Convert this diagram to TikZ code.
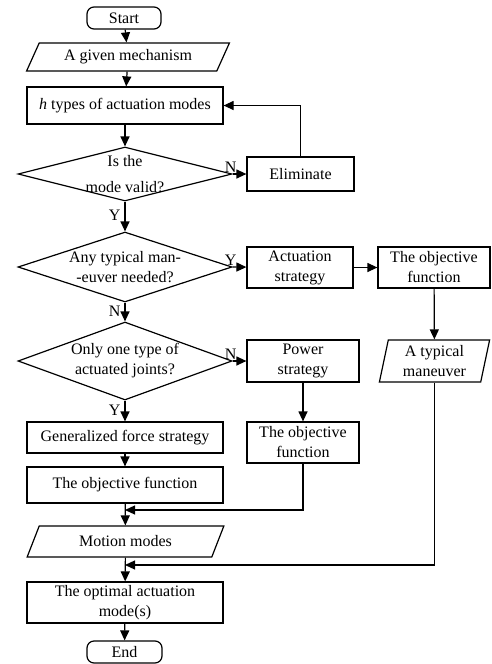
\documentclass[tikz,border=0pt]{standalone}
\usepackage{fontspec}
\setmainfont{Liberation Serif}
\usetikzlibrary{shapes.geometric,arrows.meta}
\begin{document}
\begin{tikzpicture}[x=1pt,y=-1pt,line width=1.2pt,font=\fontsize{16}{20}\selectfont,
  >={Triangle[length=10pt,width=9pt]},
  term/.style={draw,rounded corners=7pt,minimum width=74pt,minimum height=22pt,inner sep=0pt},
  proc/.style={draw,align=center,inner sep=0pt},
  io/.style={draw,trapezium,trapezium stretches=true,align=center,inner sep=0pt},
  decide/.style={draw,diamond,inner sep=0pt,minimum width=214pt}]
\useasboundingbox (0,0) rectangle (492,664);
\node[term] (start) at (124,18) {Start};
\node[io,trapezium left angle=58,trapezium right angle=122,minimum width=203pt,minimum height=28pt] (mech) at (128,57) {A given mechanism};
\node[proc,minimum width=196pt,minimum height=37pt] (htypes) at (125,105.5) {\textit{h} types of actuation modes};
\node[decide,minimum height=54pt,label={[align=center]center:Is the\\[6pt]mode valid?}] (valid) at (125,174) {};
\node[proc,minimum width=107pt,minimum height=34pt] (elim) at (300.5,174) {Eliminate};
\node[decide,minimum height=70pt,label={[align=center]center:Any typical man-\\-euver needed?}] (anyman) at (125,267) {};
\node[proc,minimum width=106pt,minimum height=41pt] (act) at (300,267.5) {Actuation\\strategy};
\node[proc,minimum width=112pt,minimum height=41pt] (objA) at (434,267.5) {The objective\\function};
\node[io,trapezium left angle=79,trapezium right angle=101,minimum width=111pt,minimum height=42pt] (typ) at (434.5,361) {A typical\\maneuver};
\node[decide,minimum height=78pt,label={[align=center]center:Only one type of\\actuated joints?}] (onetype) at (125,361) {};
\node[proc,minimum width=112pt,minimum height=42pt] (power) at (303,361) {Power\\strategy};
\node[proc,minimum width=196pt,minimum height=31pt] (gfs) at (125,437.5) {Generalized force strategy};
\node[proc,minimum width=112pt,minimum height=41pt] (objB) at (303,442.5) {The objective\\function};
\node[proc,minimum width=196pt,minimum height=36pt] (objC) at (125,485) {The objective function};
\node[io,trapezium left angle=60,trapezium right angle=120,minimum width=197pt,minimum height=31pt] (motion) at (125.5,541.5) {Motion modes};
\node[proc,minimum width=196pt,minimum height=41pt] (optimal) at (125,602.5) {The optimal actuation\\mode(s)};
\node[term,minimum width=75pt] (end) at (124.5,652) {End};
\coordinate (joinB) at (125,510);
\coordinate (joinA) at (125,565);
\draw[->] (start) -- (mech);
\draw[->] (mech) -- (htypes);
\draw[->] (htypes) -- (valid);
\draw[->] (valid.east) -- node[pos=0,above,xshift=-2pt,inner sep=1pt] {N} (elim);
\draw[->] (elim.north) |- (htypes.east);
\draw[->] (valid.south) -- node[left,pos=0.45,inner sep=4pt] {Y} (anyman.north);
\draw[->] (anyman.east) -- node[pos=0,above,xshift=-2pt,inner sep=1pt] {Y} (act);
\draw[->] (act) -- (objA);
\draw[->] (objA) -- (typ);
\draw[->] (anyman.south) -- node[left,pos=0.45,inner sep=4pt] {N} (onetype.north);
\draw[->] (onetype.east) -- node[pos=0,above,xshift=-2pt,inner sep=1pt] {N} (power);
\draw[->] (power) -- (objB);
\draw[->] (onetype.south) -- node[left,pos=0.45,inner sep=4pt] {Y} (gfs.north);
\draw[->] (gfs) -- (objC);
\draw[->] (objC) -- (motion);
\draw[->] (objB.south) |- (joinB);
\draw[->] (motion) -- (optimal);
\draw[->] (typ.south) |- (joinA);
\draw[->] (optimal) -- (end);
\end{tikzpicture}
\end{document}
